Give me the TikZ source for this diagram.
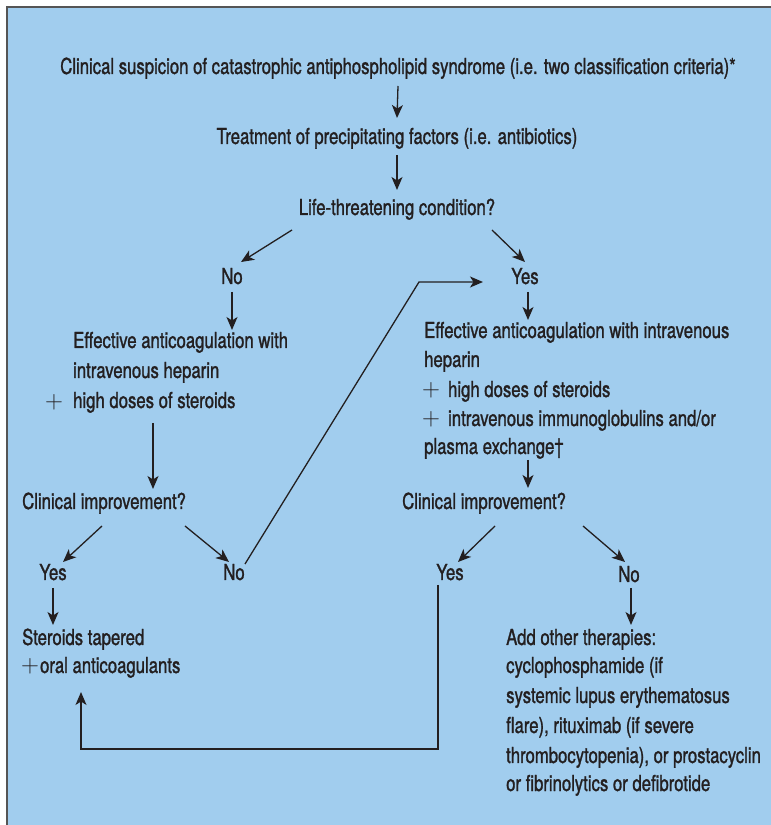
\documentclass[tikz,border=0pt]{standalone}
\usepackage{fontspec}
\setmainfont[FakeStretch=0.76,FakeBold=1.2]{TeX Gyre Heros}
\usetikzlibrary{arrows.meta,calc}
\definecolor{bgblue}{RGB}{161,205,238}
\definecolor{ink}{RGB}{35,31,32}
\definecolor{framegray}{RGB}{85,85,85}
\newcommand{\bplus}{{\fontsize{27}{29}\selectfont$+$}}
\begin{document}
\begin{tikzpicture}[x=1pt,y=1pt,
  txt/.style={inner sep=0pt,text=ink,font=\fontsize{22}{29}\selectfont},
  ctxt/.style={txt,anchor=base},
  ltxt/.style={txt,anchor=base west},
  arr/.style={draw=ink,line width=1.3pt,-{Stealth[length=13pt,width=11pt,inset=3.5pt]}},
  ln/.style={draw=ink,line width=1.3pt}]
\useasboundingbox (0,0) rectangle (771,825);
\fill[white] (0,0) rectangle (771,825);
\fill[bgblue] (6,0) rectangle (771,818);
\draw[framegray,line width=2pt] (6.5,0) -- (6.5,818) -- (771,818);

% nodes
\node[ctxt] (title) at (398,751) {Clinical suspicion of catastrophic antiphospholipid syndrome (i.e. two classification criteria)*};
\node[ctxt] (tmt) at (397,681) {Treatment of precipitating factors (i.e. antibiotics)};
\node[ctxt] (life) at (397,610) {Life-threatening condition?};
\node[ctxt] (noA) at (232,541) {No};
\node[ctxt] (yesA) at (525,541) {Yes};

\node[ltxt] (lb1) at (73,477) {Effective anticoagulation with};
\node[ltxt] (lb2) at (73,447) {intravenous heparin};
\node[ltxt] (lb3) at (73,417) {high doses of steroids};
\node[ctxt] (plA) at (54,416) {\bplus};

\node[ltxt] (cl1) at (22,316) {Clinical improvement?};
\node[ctxt] (yesB) at (53,245) {Yes};
\node[ctxt] (noB) at (234,245) {No};
\node[ltxt] (st1) at (22,180) {Steroids tapered};
\node[ltxt] (st2) at (21,152) {\bplus\hspace{1pt}oral anticoagulants};

\node[ltxt] (rb1) at (424,487) {Effective anticoagulation with intravenous};
\node[ltxt] (rb2) at (424,458) {heparin};
\node[ltxt] (rb3) at (422,428) {\bplus\hspace{8pt}high doses of steroids};
\node[ltxt] (rb4) at (422,399) {\bplus\hspace{8pt}intravenous immunoglobulins and/or};
\node[ltxt] (rb5) at (424,371) {plasma exchange\textdagger};

\node[ltxt] (cr) at (402,316) {Clinical improvement?};
\node[ctxt] (yesC) at (450,245) {Yes};
\node[ctxt] (noC) at (629,243) {No};

\node[ltxt] (ad1) at (506,180) {Add other therapies:};
\node[ltxt] (ad2) at (506,152) {cyclophosphamide (if};
\node[ltxt] (ad3) at (506,122) {systemic lupus erythematosus};
\node[ltxt] (ad4) at (506,92) {flare), rituximab (if severe};
\node[ltxt] (ad5) at (506,62) {thrombocytopenia), or prostacyclin};
\node[ltxt] (ad6) at (506,34) {or fibrinolytics or defibrotide};

% connectors
\draw[arr] ([yshift=-12pt]title.base) -- ([yshift=26pt]tmt.base);
\draw[arr] ([yshift=-11pt]tmt.base) -- ([yshift=25pt]life.base);
\draw[arr] ([xshift=-105pt,yshift=-15pt]life.base) -- ([xshift=9pt,yshift=22pt]noA.base);
\draw[arr] ([xshift=95pt,yshift=-15pt]life.base) -- ([yshift=22pt]yesA.base);
\draw[arr] ([yshift=-8pt]noA.base) -- ([yshift=18pt]lb1.base -| noA.base);
\draw[arr] ([xshift=80pt,yshift=-15pt]lb3.base west) -- ([xshift=131pt,yshift=20pt]cl1.base west);
\draw[arr] ([xshift=80pt,yshift=-17pt]cl1.base west) -- ([xshift=10pt,yshift=18pt]yesB.base);
\draw[arr] ([xshift=163pt,yshift=-17pt]cl1.base west) -- ([xshift=-5pt,yshift=18pt]noB.base);
\draw[arr] ([xshift=11pt,yshift=16pt]noB.base) -- ([xshift=-106pt,yshift=2pt]yesA.base) -- ([xshift=-42pt,yshift=2pt]yesA.base);
\draw[arr] ([yshift=-8pt]yesB.base) -- ([yshift=20pt]st1.base -| yesB.base);
\draw[arr] ([xshift=-12pt,yshift=-5pt]yesC.base) |- ([xshift=60pt,yshift=-76pt]st2.base west) -- ([xshift=60pt,yshift=-19pt]st2.base west);
\draw[arr] ([xshift=3pt,yshift=-8pt]yesA.base) -- ([xshift=104pt,yshift=18pt]rb1.base west);
\draw[arr] ([xshift=104pt,yshift=-6pt]rb5.base west) -- ([xshift=126pt,yshift=21pt]cr.base west);
\draw[arr] ([xshift=93pt,yshift=-17pt]cr.base west) -- ([xshift=8pt,yshift=18pt]yesC.base);
\draw[arr] ([xshift=181pt,yshift=-17pt]cr.base west) -- ([xshift=-4pt,yshift=20pt]noC.base);
\draw[arr] ([xshift=2pt,yshift=-6pt]noC.base) -- ([xshift=125pt,yshift=20pt]ad1.base west);
\end{tikzpicture}
\end{document}
